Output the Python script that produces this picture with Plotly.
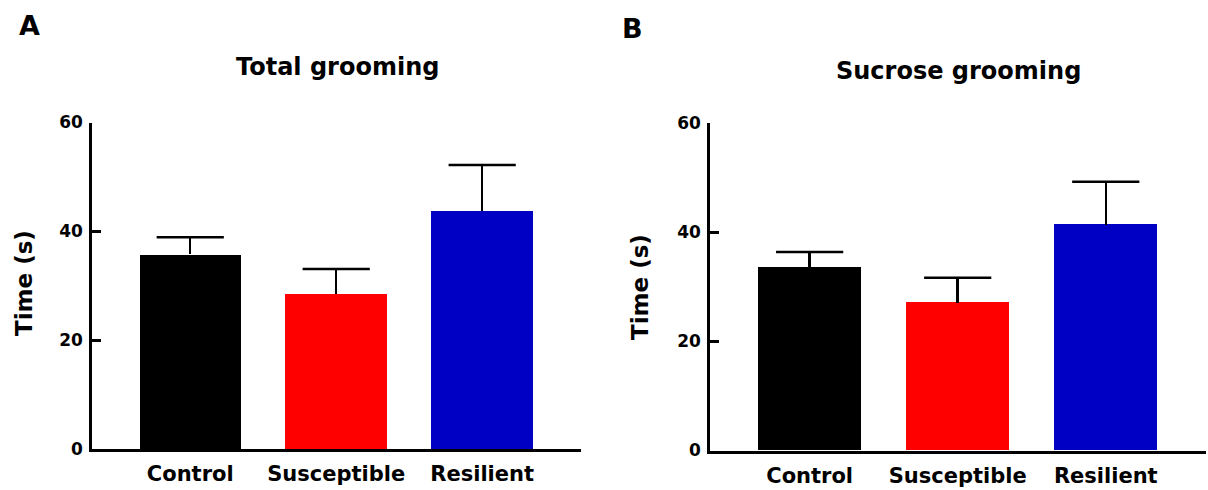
import plotly.graph_objects as go

# Group names and bar data (mean time in seconds, SEM)
categories = ["Control", "Susceptible", "Resilient"]
total_mean = [35.8, 28.5, 43.8]
total_sem = [3.1, 4.6, 8.4]
sucrose_mean = [33.6, 27.1, 41.4]
sucrose_sem = [2.8, 4.6, 7.9]
bar_colors = ["#000000", "#FF0000", "#0000C4"]
y_ticks = [0, 20, 40, 60]
panel_titles = ["Total grooming", "Sucrose grooming"]
panel_letters = ["A", "B"]
y_title = "Time (s)"

W, H = 1208, 490
FONT = "DejaVu Sans"


def px_x(v):
    return v / W


def px_y(v):
    return (H - v) / H


fig = go.Figure()

panels = [
    dict(mean=total_mean, sem=total_sem, xa="x", ya="y",
         xdom=(92, 581), ydom=(449, 122.5), title_xy=(337, 67),
         letter_xy=(29, 26), ytitle_xy=(24, 283)),
    dict(mean=sucrose_mean, sem=sucrose_sem, xa="x2", ya="y2",
         xdom=(710, 1206), ydom=(450.5, 123.3), title_xy=(958, 71),
         letter_xy=(632, 28), ytitle_xy=(640, 287)),
]

for i, p in enumerate(panels):
    # bars with a one-sided (upward) SEM stem
    fig.add_trace(go.Bar(
        x=categories, y=p["mean"],
        marker=dict(color=bar_colors, line=dict(width=0)),
        width=0.695,
        error_y=dict(type="data", array=p["sem"], arrayminus=[0] * len(p["sem"]),
                     symmetric=False, color="black", thickness=2.5, width=0),
        xaxis=p["xa"], yaxis=p["ya"], showlegend=False, hoverinfo="skip",
    ))
    # cap at the top of each SEM stem
    tops = [m + s for m, s in zip(p["mean"], p["sem"])]
    fig.add_trace(go.Scatter(
        x=categories, y=tops, mode="markers",
        marker=dict(symbol="line-ew", size=48, color="black",
                    line=dict(color="black", width=2.5)),
        xaxis=p["xa"], yaxis=p["ya"], showlegend=False, hoverinfo="skip",
        cliponaxis=False,
    ))

    sfx = "" if i == 0 else str(i + 1)
    fig.update_layout(**{
        "xaxis" + sfx: dict(
            domain=[px_x(p["xdom"][0]), px_x(p["xdom"][1])],
            range=[-0.673, 2.677], anchor="y" + sfx, automargin=False,
            showline=True, linecolor="black", linewidth=3,
            ticks="", showgrid=False, zeroline=False,
            tickfont=dict(family=FONT, size=21, color="black", weight="bold"),
            ticklabelstandoff=4,
        ),
        "yaxis" + sfx: dict(
            domain=[px_y(p["ydom"][0]), px_y(p["ydom"][1])],
            range=[0, 60], anchor="x" + sfx, automargin=False,
            tickvals=y_ticks, ticks="inside", ticklen=9, tickwidth=2.5,
            tickcolor="black",
            showline=True, linecolor="black", linewidth=2.5,
            showgrid=False, zeroline=False,
            tickfont=dict(family=FONT, size=17, color="black", weight="bold"),
            ticklabelstandoff=3,
        ),
    })

    fig.add_annotation(text=panel_titles[i], xref="paper", yref="paper",
                       x=px_x(p["title_xy"][0]), y=px_y(p["title_xy"][1]),
                       xanchor="center", yanchor="middle", showarrow=False,
                       font=dict(family=FONT, size=24, color="black", weight="bold"))
    fig.add_annotation(text=panel_letters[i], xref="paper", yref="paper",
                       x=px_x(p["letter_xy"][0]), y=px_y(p["letter_xy"][1]),
                       xanchor="center", yanchor="middle", showarrow=False,
                       font=dict(family=FONT, size=27, color="black", weight="bold"))
    fig.add_annotation(text=y_title, xref="paper", yref="paper",
                       x=px_x(p["ytitle_xy"][0]), y=px_y(p["ytitle_xy"][1]),
                       xanchor="center", yanchor="middle", showarrow=False,
                       textangle=-90,
                       font=dict(family=FONT, size=23, color="black", weight="bold"))

fig.update_layout(
    template="none",
    width=W, height=H,
    margin=dict(l=0, r=0, t=0, b=0, pad=0, autoexpand=False),
    paper_bgcolor="white", plot_bgcolor="white",
    bargap=0, showlegend=False,
)

fig.write_html("out.html")
